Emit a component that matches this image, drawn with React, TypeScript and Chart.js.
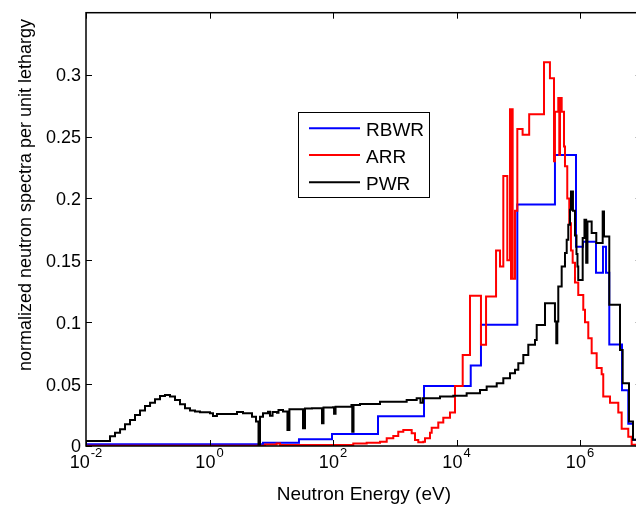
import { useEffect, useRef } from "react";
import { Chart, registerables } from "chart.js";

Chart.register(...registerables);

// ---------- axis settings ----------
const X_MIN = 1e-2;
const X_MAX = 1e7;
const Y_MIN = 0;
const Y_MAX = 0.35;
const xTickValues = [1e-2, 1e0, 1e2, 1e4, 1e6];
const xTickExponents = ["-2", "0", "2", "4", "6"];
const yTickValues = [0, 0.05, 0.1, 0.15, 0.2, 0.25, 0.3];
const yTickLabels = ["0", "0.05", "0.1", "0.15", "0.2", "0.25", "0.3"];
const xTitle = "Neutron Energy (eV)";
const yTitle = "normalized neutron spectra per unit lethargy";

// ---------- series (lower group edge in eV, value; last point closes the final group) ----------
const seriesLabels = ["RBWR", "ARR", "PWR"];
const seriesColors = ["#0000ff", "#ff0000", "#000000"];

const rbwrEnergy = [0.01, 7.35, 28.1, 96.4, 536, 2980, 17000, 24900, 96600, 393000, 861000, 1.119e6, 1.815e6, 2.355e6, 2.635e6, 2.98e6, 4.79e6, 6.05e6, 7.21e6, 1e7];
const rbwrValue = [0.0015, 0.0027, 0.0054, 0.0097, 0.024, 0.0485, 0.065, 0.098, 0.195, 0.235, 0.161, 0.165, 0.14, 0.161, 0.14, 0.082, 0.045, 0.018, 0.005, 0.005];

const arrEnergy = [0.01, 7.93, 12.2, 13.9, 213, 351, 577, 741, 947, 1140, 1375, 1880, 2127, 2405, 2900, 3090, 3725, 3965, 5070, 6110, 7850, 9460, 12600, 16550, 24900, 30100, 43700, 50600, 57300, 66500, 73500, 76300, 78300, 81200, 88500, 96600, 117600, 150300, 261000, 326000, 379000, 393000, 445000, 462000, 474000, 505000, 551000, 571000, 622000, 670000, 714000, 761000, 829000, 937000, 1.13e6, 1.205e6, 1.362e6, 1.545e6, 1.862e6, 2.244e6, 2.38e6, 3.06e6, 4.17e6, 4.73e6, 6.05e6, 6.87e6, 1e7];
const arrValue = [0.0003, 0.0013, 0.002, 0.0008, 0.002, 0.0027, 0.0035, 0.0062, 0.0081, 0.0116, 0.0129, 0.0103, 0.0049, 0.003, 0.0035, 0.0062, 0.0108, 0.0148, 0.0189, 0.0229, 0.027, 0.0485, 0.0736, 0.1213, 0.0817, 0.1207, 0.158, 0.145, 0.218, 0.15, 0.272, 0.135, 0.272, 0.135, 0.19, 0.256, 0.2515, 0.268, 0.31, 0.297, 0.23, 0.27, 0.281, 0.235, 0.281, 0.27, 0.242, 0.226, 0.2, 0.18, 0.158, 0.148, 0.132, 0.122, 0.11, 0.1, 0.087, 0.075, 0.063, 0.058, 0.04, 0.035, 0.027, 0.014, 0.0075, 0.001, 0.001];

const pwrEnergy = [0.01, 0.0245, 0.0295, 0.0356, 0.0428, 0.0516, 0.0621, 0.0749, 0.0903, 0.109, 0.131, 0.158, 0.19, 0.229, 0.276, 0.333, 0.401, 0.483, 0.582, 0.702, 1.02, 1.14, 1.32, 2.79, 3.49, 4.88, 5.66, 6.22, 6.57, 7.35, 8.86, 9.55, 10.5, 12.4, 13.1, 15.5, 18.3, 19.7, 32.7, 35.2, 45.7, 66.4, 70.2, 100, 104, 110, 199, 205, 215, 274, 577, 1560, 2265, 2610, 2865, 5400, 8870, 14600, 24000, 30800, 44800, 57300, 73500, 88500, 100200, 120800, 145500, 186700, 199000, 271000, 393000, 413000, 429000, 445000, 505000, 571000, 609000, 646000, 688000, 714000, 769000, 829000, 877000, 910000, 937000, 1.105e6, 1.181e6, 1.259e6, 1.321e6, 1.545e6, 1.835e6, 2.33e6, 2.45e6, 2.98e6, 4.44e6, 4.91e6, 6.21e6, 7.21e6, 1e7];
const pwrValue = [0.004, 0.0078, 0.0108, 0.0135, 0.0175, 0.021, 0.025, 0.0286, 0.0323, 0.035, 0.0378, 0.0404, 0.0412, 0.0399, 0.0372, 0.0337, 0.0305, 0.0286, 0.0278, 0.0272, 0.0264, 0.0243, 0.0259, 0.0275, 0.0264, 0.0237, 0.0197, 0.001, 0.0237, 0.0264, 0.0277, 0.0245, 0.0275, 0.0268, 0.0291, 0.0278, 0.013, 0.0297, 0.0143, 0.0302, 0.0305, 0.0183, 0.031, 0.0312, 0.026, 0.0318, 0.0332, 0.0116, 0.0332, 0.034, 0.0358, 0.0372, 0.0386, 0.035, 0.0386, 0.0399, 0.0405, 0.0426, 0.0453, 0.048, 0.0507, 0.0547, 0.0588, 0.0615, 0.0669, 0.0736, 0.0817, 0.0857, 0.0978, 0.1154, 0.1005, 0.083, 0.1005, 0.1288, 0.145, 0.1558, 0.1666, 0.1787, 0.1908, 0.2056, 0.19, 0.17, 0.155, 0.145, 0.134, 0.168, 0.1827, 0.148, 0.1814, 0.172, 0.164, 0.1895, 0.1693, 0.114, 0.0776, 0.0507, 0.0197, 0.005, 0.005];

// ---------- layout / style ----------
const CANVAS_W = 650;
const CANVAS_H = 506;
const AREA = { left: 86, top: 12.7, right: 641.75, bottom: 446 };
const FAMILY = "'Liberation Sans', Arial, Helvetica, sans-serif";
const TICK_FONT = 18;
const EXP_FONT = 13;
const TITLE_FONT = 19;
const YTITLE_FONT = 18;
const LEGEND_FONT = 19;
const TICK_LEN = 6;

function toPoints(xs: number[], ys: number[]) {
  return xs.map((x, i) => ({ x, y: ys[i] }));
}

const framePlugin = {
  id: "matlabFrame",
  afterDatasetsDraw(chart: any) {
    const { ctx, chartArea: a, scales } = chart;
    const xs = scales.x;
    const ys = scales.y;
    ctx.save();
    // ticks (inward, on all four sides)
    ctx.strokeStyle = "#000";
    ctx.lineWidth = 1;
    ctx.beginPath();
    xTickValues.forEach((v) => {
      const px = Math.round(xs.getPixelForValue(v)) + 0.5;
      ctx.moveTo(px, a.bottom);
      ctx.lineTo(px, a.bottom - TICK_LEN);
      ctx.moveTo(px, a.top);
      ctx.lineTo(px, a.top + TICK_LEN);
    });
    yTickValues.forEach((v) => {
      const py = Math.round(ys.getPixelForValue(v)) + 0.5;
      ctx.moveTo(a.left, py);
      ctx.lineTo(a.left + TICK_LEN, py);
      ctx.moveTo(a.right, py);
      ctx.lineTo(a.right - TICK_LEN, py);
    });
    ctx.stroke();
    // box
    ctx.lineWidth = 1.5;
    ctx.strokeRect(a.left, a.top, a.right - a.left, a.bottom - a.top);

    ctx.fillStyle = "#000";
    // y tick labels
    ctx.font = `${TICK_FONT}px ${FAMILY}`;
    ctx.textAlign = "right";
    ctx.textBaseline = "alphabetic";
    yTickValues.forEach((v, i) => {
      const py = ys.getPixelForValue(v);
      ctx.fillText(yTickLabels[i], a.left - 5, py + 0.36 * TICK_FONT);
    });
    // x tick labels 10^n
    ctx.textAlign = "left";
    xTickValues.forEach((v, i) => {
      const px = xs.getPixelForValue(v);
      ctx.font = `${TICK_FONT}px ${FAMILY}`;
      const w1 = ctx.measureText("10").width;
      ctx.font = `${EXP_FONT}px ${FAMILY}`;
      const w2 = ctx.measureText(xTickExponents[i]).width;
      const left = px - (w1 + 1 + w2) / 2;
      ctx.font = `${TICK_FONT}px ${FAMILY}`;
      ctx.fillText("10", left, a.bottom + 22.3);
      ctx.font = `${EXP_FONT}px ${FAMILY}`;
      ctx.fillText(xTickExponents[i], left + w1 + 1, a.bottom + 11);
    });
    // x title
    ctx.font = `${TITLE_FONT}px ${FAMILY}`;
    ctx.textAlign = "center";
    ctx.fillText(xTitle, (a.left + a.right) / 2, a.bottom + 54.3);
    // y title
    ctx.save();
    ctx.translate(31, 195);
    ctx.rotate(-Math.PI / 2);
    ctx.font = `${YTITLE_FONT}px ${FAMILY}`;
    ctx.textAlign = "center";
    ctx.fillText(yTitle, 0, 0);
    ctx.restore();

    // legend
    const bx = 298.5, by = 112.5, bw = 131, bh = 85;
    ctx.fillStyle = "#fff";
    ctx.fillRect(bx, by, bw, bh);
    ctx.strokeStyle = "#000";
    ctx.lineWidth = 1;
    ctx.strokeRect(bx, by, bw, bh);
    const rows = [128.3, 155, 182.3];
    ctx.font = `${LEGEND_FONT}px ${FAMILY}`;
    ctx.textAlign = "left";
    seriesLabels.forEach((label, i) => {
      ctx.strokeStyle = seriesColors[i];
      ctx.lineWidth = 2;
      ctx.beginPath();
      ctx.moveTo(309, rows[i]);
      ctx.lineTo(360, rows[i]);
      ctx.stroke();
      ctx.fillStyle = "#000";
      ctx.fillText(label, 366, rows[i] + 7.5);
    });
    ctx.restore();
  },
};

export default function App() {
  const canvasRef = useRef<HTMLCanvasElement | null>(null);

  useEffect(() => {
    const canvas = canvasRef.current;
    if (!canvas) return;
    const chart = new Chart(canvas, {
      type: "line",
      data: {
        datasets: [
          {
            label: seriesLabels[0],
            data: toPoints(rbwrEnergy, rbwrValue),
            borderColor: seriesColors[0],
            order: 2,
          },
          {
            label: seriesLabels[1],
            data: toPoints(arrEnergy, arrValue),
            borderColor: seriesColors[1],
            order: 1,
          },
          {
            label: seriesLabels[2],
            data: toPoints(pwrEnergy, pwrValue),
            borderColor: seriesColors[2],
            order: 0,
          },
        ],
      },
      options: {
        animation: false,
        responsive: false,
        maintainAspectRatio: false,
        events: [],
        layout: {
          padding: {
            left: AREA.left,
            top: AREA.top,
            right: CANVAS_W - AREA.right,
            bottom: CANVAS_H - AREA.bottom,
          },
        },
        elements: {
          point: { radius: 0 },
          line: {
            borderWidth: 2,
            stepped: "before",
            fill: false,
            tension: 0,
            borderJoinStyle: "miter",
            borderCapStyle: "butt",
          },
        },
        scales: {
          x: { type: "logarithmic", min: X_MIN, max: X_MAX, display: false },
          y: { type: "linear", min: Y_MIN, max: Y_MAX, display: false },
        },
        plugins: {
          legend: { display: false },
          tooltip: { enabled: false },
        },
      },
      plugins: [framePlugin],
    } as any);
    return () => chart.destroy();
  }, []);

  return (
    <div
      style={{
        position: "fixed",
        left: 0,
        top: 0,
        width: 636,
        height: 506,
        overflow: "hidden",
        background: "#fff",
      }}
    >
      <canvas ref={canvasRef} width={CANVAS_W} height={CANVAS_H} style={{ display: "block" }} />
    </div>
  );
}
